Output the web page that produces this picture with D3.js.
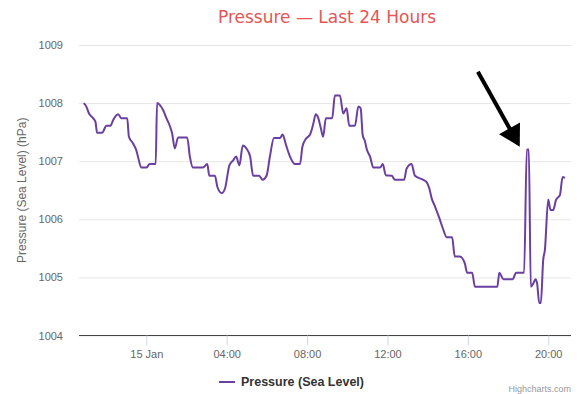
<!DOCTYPE html>
<html>
<head>
<meta charset="utf-8">
<script src="https://cdn.jsdelivr.net/npm/d3@7"></script>
<style>
  body { margin: 0; background: #fff; }
  svg { display: block; font-family: "Liberation Sans", Arial, sans-serif; }
</style>
</head>
<body>
<svg id="chart" width="581" height="394"></svg>
<script>
// readings, 14 Jan evening -> 15 Jan evening
const times = [
  "01-14 20:53", "01-14 21:01", "01-14 21:09", "01-14 21:21", "01-14 21:28", "01-14 21:33",
  "01-14 21:48", "01-14 22:01", "01-14 22:13", "01-14 22:21", "01-14 22:36", "01-14 22:45",
  "01-14 23:03", "01-14 23:08", "01-14 23:20", "01-14 23:30", "01-14 23:35", "01-14 23:45",
  "01-15 00:00", "01-15 00:10", "01-15 00:28", "01-15 00:32", "01-15 00:40", "01-15 00:50",
  "01-15 01:00", "01-15 01:10", "01-15 01:17", "01-15 01:25", "01-15 01:35", "01-15 02:02",
  "01-15 02:10", "01-15 02:19", "01-15 02:49", "01-15 03:02", "01-15 03:08", "01-15 03:25",
  "01-15 03:32", "01-15 03:45", "01-15 03:55", "01-15 04:08", "01-15 04:20", "01-15 04:28",
  "01-15 04:38", "01-15 04:48", "01-15 05:00", "01-15 05:10", "01-15 05:19", "01-15 05:37",
  "01-15 05:47", "01-15 05:59", "01-15 06:09", "01-15 06:21", "01-15 06:39", "01-15 06:47",
  "01-15 06:57", "01-15 07:09", "01-15 07:24", "01-15 07:39", "01-15 07:46", "01-15 07:57",
  "01-15 08:09", "01-15 08:18", "01-15 08:26", "01-15 08:33", "01-15 08:41", "01-15 08:48",
  "01-15 08:56", "01-15 09:15", "01-15 09:23", "01-15 09:38", "01-15 09:48", "01-15 09:58",
  "01-15 10:06", "01-15 10:23", "01-15 10:33", "01-15 10:40", "01-15 10:46", "01-15 10:53",
  "01-15 10:58", "01-15 11:08", "01-15 11:18", "01-15 11:38", "01-15 11:46", "01-15 11:55",
  "01-15 12:13", "01-15 12:22", "01-15 12:50", "01-15 12:57", "01-15 13:12", "01-15 13:22",
  "01-15 13:47", "01-15 13:57", "01-15 14:05", "01-15 14:12", "01-15 14:22", "01-15 14:35",
  "01-15 14:45", "01-15 14:57", "01-15 15:13", "01-15 15:21", "01-15 15:36", "01-15 15:51",
  "01-15 15:58", "01-15 16:13", "01-15 16:21", "01-15 17:28", "01-15 17:34", "01-15 17:46",
  "01-15 18:14", "01-15 18:24", "01-15 18:48", "01-15 18:56", "01-15 19:02", "01-15 19:08",
  "01-15 19:15", "01-15 19:22", "01-15 19:27", "01-15 19:33", "01-15 19:38", "01-15 19:45",
  "01-15 19:50", "01-15 20:00", "01-15 20:07", "01-15 20:15", "01-15 20:23", "01-15 20:35",
  "01-15 20:43", "01-15 20:50"
];
const pressure = [
  1008.00, 1007.94, 1007.82, 1007.74, 1007.68, 1007.49,
  1007.49, 1007.61, 1007.61, 1007.71, 1007.81, 1007.74,
  1007.74, 1007.42, 1007.31, 1007.19, 1007.08, 1006.89,
  1006.89, 1006.95, 1006.95, 1008.00, 1007.97, 1007.88,
  1007.74, 1007.61, 1007.48, 1007.22, 1007.41, 1007.41,
  1007.08, 1006.89, 1006.89, 1006.95, 1006.75, 1006.75,
  1006.56, 1006.45, 1006.53, 1006.93, 1007.02, 1007.08,
  1006.93, 1007.27, 1007.21, 1007.08, 1006.75, 1006.75,
  1006.68, 1006.75, 1007.08, 1007.40, 1007.40, 1007.46,
  1007.28, 1007.08, 1006.95, 1006.95, 1007.25, 1007.39,
  1007.46, 1007.63, 1007.81, 1007.75, 1007.57, 1007.42,
  1007.74, 1007.74, 1008.13, 1008.13, 1007.82, 1007.91,
  1007.61, 1007.61, 1007.94, 1007.91, 1007.45, 1007.34,
  1007.21, 1007.08, 1006.89, 1006.89, 1006.95, 1006.76,
  1006.75, 1006.68, 1006.68, 1006.87, 1006.95, 1006.75,
  1006.68, 1006.64, 1006.53, 1006.36, 1006.22, 1006.02,
  1005.85, 1005.69, 1005.69, 1005.36, 1005.36, 1005.24,
  1005.08, 1005.08, 1004.84, 1004.84, 1005.08, 1004.97,
  1004.97, 1005.08, 1005.08, 1007.20, 1007.20, 1004.84,
  1004.89, 1004.97, 1004.89, 1004.56, 1004.56, 1005.30,
  1005.47, 1006.34, 1006.16, 1006.16, 1006.33, 1006.42,
  1006.73, 1006.71
];
const yTicks = [1004, 1005, 1006, 1007, 1008, 1009];
const xRange = ["01-14 20:39", "01-15 21:08"];
const xTickTimes = ["01-15 00:00", "01-15 04:00", "01-15 08:00", "01-15 12:00", "01-15 16:00", "01-15 20:00"];
const seriesName = "Pressure (Sea Level)";
// arrow: tail and tip, in data units
const arrowFrom = ["01-15 16:30", 1008.54];
const arrowTo = ["01-15 18:35", 1007.25];

const parse = d3.timeParse("%Y-%m-%d %H:%M");
const toDate = s => parse("2024-" + s);
const data = times.map((t, i) => ({ t: toDate(t), v: pressure[i] }));

const svg = d3.select("#chart");
const plotLeft = 79, plotRight = 571, plotTop = 45, plotBottom = 335.5;

const x = d3.scaleTime().domain(xRange.map(toDate)).range([plotLeft, plotRight]);
const y = d3.scaleLinear().domain([1004, 1009]).range([plotBottom, plotTop]);

// title
svg.append("text")
  .attr("x", 327).attr("y", 23)
  .attr("text-anchor", "middle")
  .attr("fill", "#e55656")
  .style("font-family", "'DejaVu Sans', sans-serif")
  .style("font-size", "17px")
  .text("Pressure \u2014 Last 24 Hours");

// grid + y labels
const yAxis = svg.append("g")
  .attr("transform", `translate(${plotLeft},0)`)
  .call(d3.axisLeft(y).tickValues(yTicks).tickSize(-(plotRight - plotLeft)).tickFormat(d3.format("d")));
yAxis.select(".domain").remove();
yAxis.selectAll("line").attr("stroke", "#e6e6e6");
yAxis.selectAll("text")
  .attr("x", -16).attr("dy", "0.32em")
  .attr("fill", "#666").style("font-size", "11px");

svg.append("text")
  .attr("transform", `translate(26,${(plotTop + plotBottom) / 2}) rotate(-90)`)
  .attr("text-anchor", "middle")
  .attr("fill", "#666")
  .style("font-size", "12px")
  .text("Pressure (Sea Level) (hPa)");

// x axis
const fmt = d => d.getHours() === 0 ? d3.timeFormat("%-d %b")(d) : d3.timeFormat("%H:%M")(d);
const xAxis = svg.append("g")
  .attr("transform", `translate(0,${plotBottom})`)
  .call(d3.axisBottom(x).tickValues(xTickTimes.map(toDate)).tickSize(10).tickPadding(5).tickFormat(fmt));
xAxis.select(".domain").attr("stroke", "#444").attr("d", `M${plotLeft},0H${plotRight}`);
xAxis.selectAll("line").attr("stroke", "#ccd6eb");
xAxis.selectAll("text").attr("fill", "#666").style("font-size", "11px");

// series
const line = d3.line()
  .x(d => x(d.t))
  .y(d => y(d.v))
  .curve(d3.curveMonotoneX);

svg.append("path")
  .datum(data)
  .attr("fill", "none")
  .attr("stroke", "#6a3fa0")
  .attr("stroke-width", 2)
  .attr("stroke-linejoin", "round")
  .attr("d", line);

// arrow pointing at the spike
const tail = [x(toDate(arrowFrom[0])), y(arrowFrom[1])];
const tip = [x(toDate(arrowTo[0])), y(arrowTo[1])];
const dx = tip[0] - tail[0], dy = tip[1] - tail[1];
const len = Math.hypot(dx, dy);
const ux = dx / len, uy = dy / len;
const headLen = 21, headHalf = 12;
const base = [tip[0] - ux * headLen, tip[1] - uy * headLen];

svg.append("line")
  .attr("x1", tail[0]).attr("y1", tail[1])
  .attr("x2", base[0] + ux * 2).attr("y2", base[1] + uy * 2)
  .attr("stroke", "#000")
  .attr("stroke-width", 4);

svg.append("path")
  .attr("d", `M${tip[0]},${tip[1]}L${base[0] - uy * headHalf},${base[1] + ux * headHalf}L${base[0] + uy * headHalf},${base[1] - ux * headHalf}Z`)
  .attr("fill", "#000");

// legend
const lg = svg.append("g").attr("transform", "translate(219,382)");
lg.append("line").attr("x1", 0).attr("x2", 16).attr("stroke", "#6a3fa0").attr("stroke-width", 2);
lg.append("text")
  .attr("x", 22).attr("y", 4)
  .attr("fill", "#333")
  .style("font-size", "12.5px")
  .style("font-weight", "bold")
  .text(seriesName);

// credits
svg.append("text")
  .attr("x", 571).attr("y", 392)
  .attr("text-anchor", "end")
  .attr("fill", "#999")
  .style("font-size", "9px")
  .text("Highcharts.com");
</script>
</body>
</html>
